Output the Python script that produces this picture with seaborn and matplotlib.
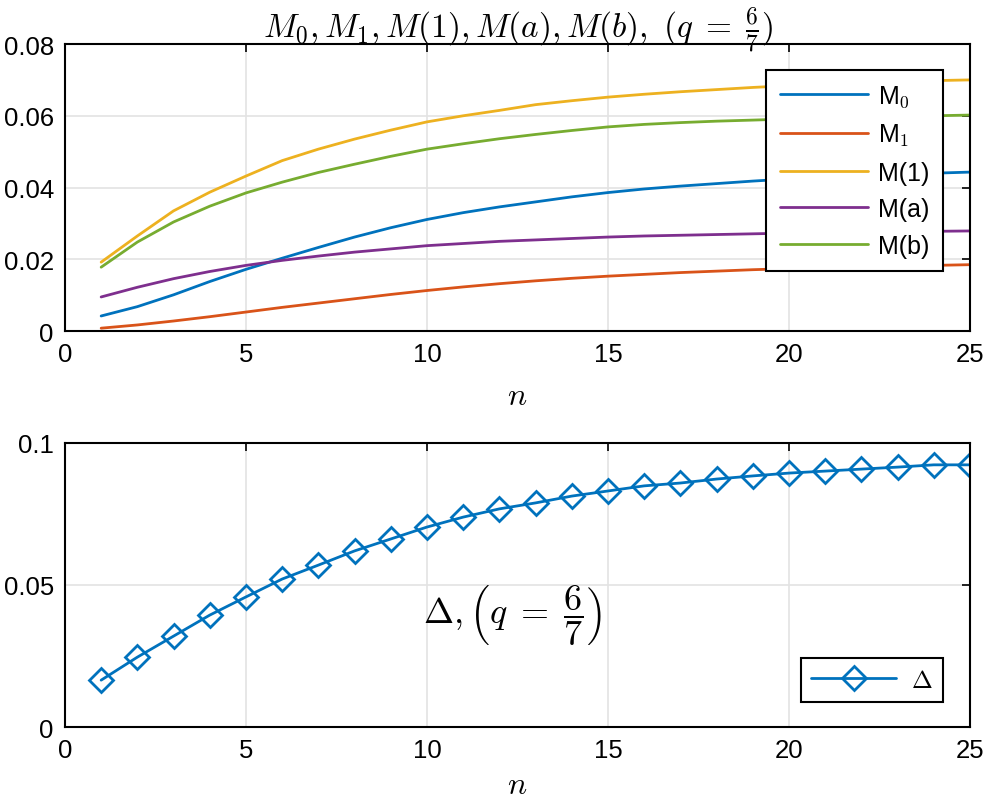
import matplotlib.pyplot as plt
import pandas as pd
import seaborn as sns

n = list(range(1, 26))

m0 = [0.0042, 0.0068, 0.0101, 0.0138, 0.0172, 0.0203, 0.0233, 0.0262, 0.0288, 0.0311,
      0.0330, 0.0346, 0.0360, 0.0374, 0.0386, 0.0396, 0.0404, 0.0411, 0.0418, 0.0424,
      0.0429, 0.0433, 0.0437, 0.0440, 0.0443]
m1 = [0.0008, 0.0017, 0.0028, 0.0040, 0.0053, 0.0066, 0.0078, 0.0090, 0.0102, 0.0113,
      0.0123, 0.0132, 0.0140, 0.0147, 0.0153, 0.0158, 0.0163, 0.0167, 0.0171, 0.0174,
      0.0177, 0.0179, 0.0181, 0.0183, 0.0185]
m_one = [0.0192, 0.0265, 0.0335, 0.0387, 0.0432, 0.0475, 0.0507, 0.0535, 0.0560, 0.0583,
         0.0600, 0.0615, 0.0631, 0.0642, 0.0652, 0.0660, 0.0667, 0.0673, 0.0679, 0.0684,
         0.0688, 0.0692, 0.0695, 0.0698, 0.0700]
m_a = [0.0095, 0.0122, 0.0146, 0.0166, 0.0183, 0.0197, 0.0209, 0.0220, 0.0229, 0.0238,
       0.0244, 0.0250, 0.0254, 0.0258, 0.0262, 0.0265, 0.0267, 0.0269, 0.0271, 0.0273,
       0.0275, 0.0276, 0.0277, 0.0278, 0.0279]
m_b = [0.0178, 0.0248, 0.0304, 0.0348, 0.0385, 0.0415, 0.0442, 0.0465, 0.0487, 0.0507,
       0.0522, 0.0536, 0.0548, 0.0559, 0.0569, 0.0576, 0.0581, 0.0585, 0.0588, 0.0591,
       0.0594, 0.0596, 0.0598, 0.0600, 0.0602]
delta = [0.0165, 0.0246, 0.0320, 0.0394, 0.0458, 0.0521, 0.0570, 0.0620, 0.0662, 0.0704,
         0.0739, 0.0768, 0.0789, 0.0813, 0.0831, 0.0849, 0.0859, 0.0873, 0.0884, 0.0894,
         0.0901, 0.0908, 0.0915, 0.0923, 0.0923]

labels = ["M$_0$", "M$_1$", "M(1)", "M(a)", "M(b)"]
colors = ["#0072BD", "#D95319", "#EDB120", "#7E2F8E", "#77AC30"]

sns.set_theme(style="whitegrid")
plt.rcParams["font.family"] = ["Liberation Sans", "DejaVu Sans"]
plt.rcParams["mathtext.fontset"] = "cm"

fig = plt.figure(figsize=(9.84, 8.04), dpi=100)
ax1 = fig.add_axes([0.066, 0.587, 0.9198, 0.357])
ax2 = fig.add_axes([0.066, 0.0945, 0.9198, 0.3533])

for ys, lab, c in zip([m0, m1, m_one, m_a, m_b], labels, colors):
    sns.lineplot(x=n, y=ys, ax=ax1, color=c, label=lab, linewidth=2)

sns.lineplot(x=n, y=delta, ax=ax2, color="#0072BD", label=r"$\Delta$", linewidth=2,
             marker="D", markersize=12, markerfacecolor="none",
             markeredgecolor="#0072BD", markeredgewidth=2)

for ax, lp in ((ax1, 11), (ax2, 6)):
    ax.set_xlim(0, 25)
    ax.set_xticks([0, 5, 10, 15, 20, 25])
    ax.grid(True, color="#e3e3e3", linewidth=1.2)
    ax.tick_params(direction="in", length=6, width=1.2, labelsize=18.5, color="black",
                   labelcolor="black", top=True, right=True, pad=8)
    for s in ax.spines.values():
        s.set_color("black")
        s.set_linewidth(1.5)
    ax.set_xlabel("$n$", fontsize=23, labelpad=lp, color="black")

ax1.set_ylim(0, 0.08)
ax1.set_yticks([0, 0.02, 0.04, 0.06, 0.08])
ax1.set_yticklabels(["0", "0.02", "0.04", "0.06", "0.08"])
ax1.set_title(r"$M_0, M_1, M(1), M(a), M(b),\ (q\;=\;\frac{6}{7})$", fontsize=24,
              pad=5, color="black")

ax2.set_ylim(0, 0.1)
ax2.set_yticks([0, 0.05, 0.1])
ax2.set_yticklabels(["0", "0.05", "0.1"])
ax2.text(12.35, 0.0395, r"$\Delta, \left(q\;=\;\dfrac{6}{7}\right)$", fontsize=26,
         ha="center", va="center", color="black")

leg1 = ax1.legend(loc="upper right", bbox_to_anchor=(0.970, 0.909), fontsize=18,
                  frameon=True, fancybox=False, edgecolor="black", framealpha=1,
                  handlelength=3.5, labelspacing=0.5, borderpad=0.55,
                  borderaxespad=0, handletextpad=0.4)
leg1.get_frame().set_linewidth(1.5)
for t in leg1.get_texts():
    t.set_color("black")
leg2 = ax2.legend(loc="lower right", bbox_to_anchor=(0.970, 0.088), fontsize=18,
                  frameon=True, fancybox=False, edgecolor="black", framealpha=1,
                  handlelength=3.4, borderpad=0.4, borderaxespad=0,
                  handletextpad=0.6)
leg2.get_frame().set_linewidth(1.5)
for t in leg2.get_texts():
    t.set_color("black")

fig.savefig("out.png", dpi=100)
